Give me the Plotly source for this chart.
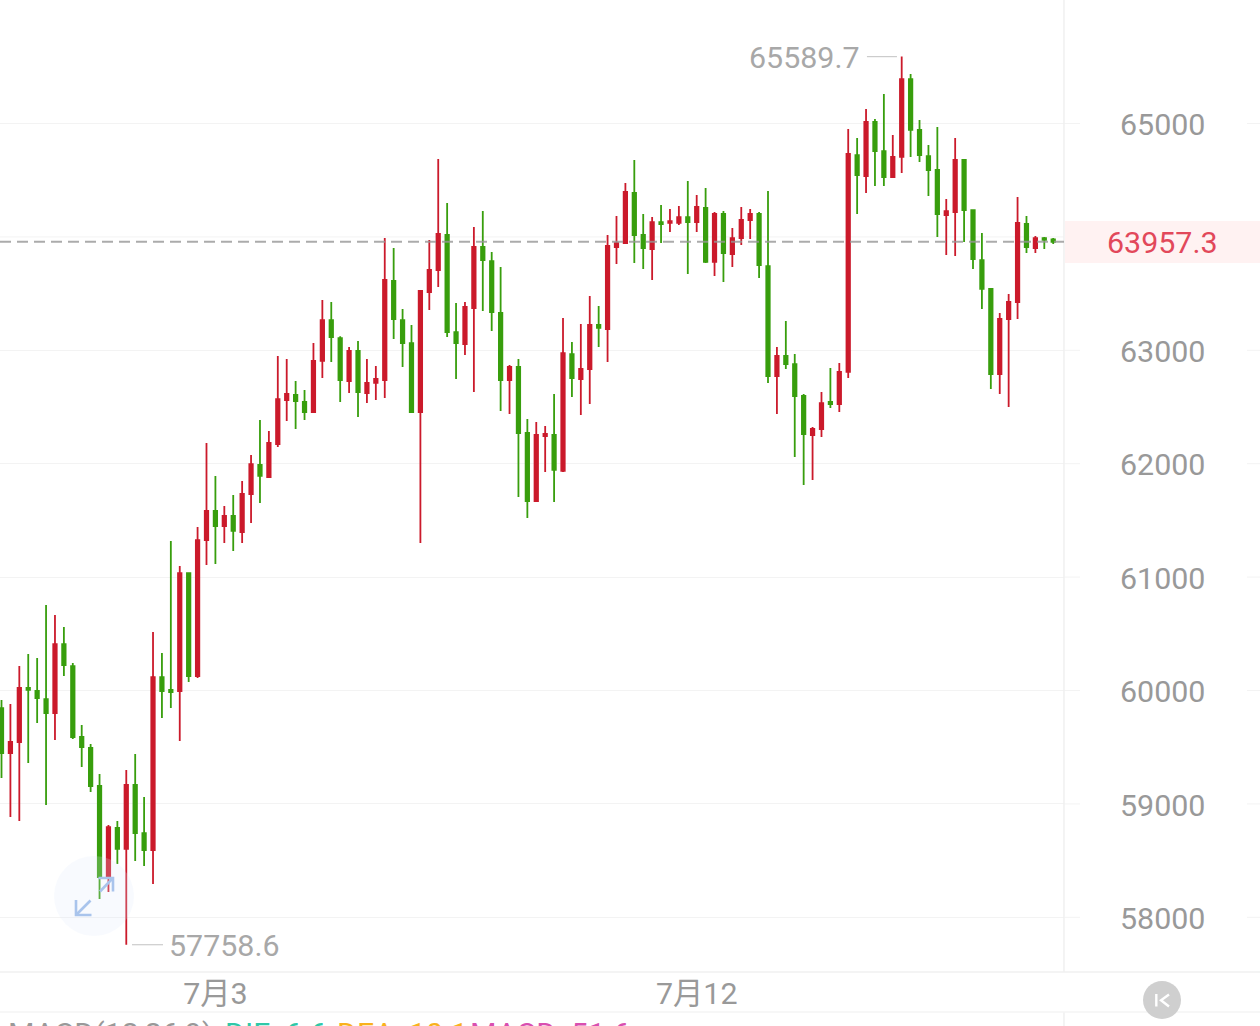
import plotly.graph_objects as go

# Four-hour BTC-style candles, price quoted in USD
opens = [59845, 59449, 59546, 60023, 59996, 59925, 59802, 60410, 60216, 59590,
         59493, 59158, 58364, 58788, 58603, 59167, 58743, 58594, 60119, 60005,
         59996, 61036, 60128, 61327, 61583, 61451, 61539, 61398, 61733, 61989,
         61883, 62174, 62562, 62606, 62544, 62456, 62906, 63267, 63108, 62729,
         62994, 62623, 62712, 62738, 63611, 63267, 63064, 62456, 63514, 63708,
         64017, 63161, 63055, 63373, 63911, 63787, 63329, 62738, 62853, 62271,
         61671, 62244, 62253, 61936, 62967, 62747, 62835, 63223, 63188, 63911,
         63946, 64387, 64017, 63893, 64131, 64123, 64123, 64175, 64131, 64255,
         63779, 64202, 63849, 63990, 64149, 64202, 63743, 62773, 62950, 62879,
         62597, 62253, 62306, 62544, 62526, 62809, 64722, 64537, 65013, 64757,
         64528, 64705, 65392, 64943, 64713, 64590, 64193, 64219, 64678, 64237,
         63796, 63541, 62791, 63276, 63426, 64114, 63902, 63990, 63977]
highs = [59916, 59881, 60216, 60322, 60287, 60754, 60666, 60560, 60242, 59696,
         59528, 59264, 58814, 58849, 59299, 59440, 59061, 60516, 60331, 61318,
         61098, 61040, 61442, 62183, 61891, 61627, 61724, 61847, 62077, 62385,
         62288, 62950, 62924, 62729, 62650, 63064, 63444, 63426, 63125, 63029,
         63082, 62924, 62861, 63990, 63902, 63364, 63223, 63527, 63973, 64687,
         64299, 63417, 63426, 64087, 64228, 63867, 63735, 62870, 62924, 62394,
         62368, 62332, 62615, 63285, 63073, 63232, 63479, 63391, 64017, 64184,
         64475, 64678, 64202, 64175, 64281, 64246, 64272, 64493, 64369, 64431,
         64219, 64228, 64078, 64264, 64246, 64219, 64405, 63029, 63258, 62968,
         62615, 62324, 62632, 62844, 62888, 64952, 64872, 65128, 65040, 65260,
         64899, 65589.7, 65436, 65031, 64810, 64969, 64334, 64872, 64687, 64240,
         64035, 63550, 63329, 63496, 64352, 64184, 64008, 63999, 63990]
lows = [59229, 58884, 58849, 59361, 59714, 58990, 59564, 60128, 59572, 59326,
        59105, 58161, 58223, 58470, 57758.6, 58497, 58452, 58294, 59757, 59845,
        59555, 60075, 60110, 61107, 61116, 61301, 61230, 61301, 61477, 61653,
        61874, 62147, 62377, 62306, 62385, 62450, 62756, 62897, 62544, 62623,
        62412, 62535, 62562, 62579, 63100, 62853, 62450, 61301, 63355, 63558,
        63117, 62747, 62959, 62632, 63347, 63170, 62465, 62438, 61706, 61521,
        61665, 61927, 61662, 61927, 62588, 62429, 62526, 63029, 62897, 63761,
        63940, 63770, 63717, 63620, 63946, 64043, 64105, 63673, 64043, 63770,
        63655, 63602, 63735, 63928, 63982, 63637, 62712, 62438, 62835, 62059,
        61812, 61856, 62235, 62491, 62456, 62756, 64202, 64387, 64449, 64449,
        64522, 64564, 64705, 64660, 64361, 64000, 63840, 63832, 63955, 63717,
        63364, 62659, 62615, 62500, 63276, 63858, 63858, 63893, 63937]
closes = [59449, 59546, 60023, 60005, 59934, 59802, 60410, 60225, 59590, 59502,
          59158, 58355, 58796, 58603, 59167, 58743, 58594, 60119, 59996, 59987,
          61036, 60128, 61327, 61583, 61451, 61539, 61407, 61733, 61997, 61892,
          62183, 62570, 62615, 62553, 62456, 62906, 63267, 63117, 62738, 62994,
          62632, 62712, 62747, 63620, 63276, 63064, 62456, 63523, 63708, 64026,
          63161, 63064, 63382, 63911, 63796, 63338, 62738, 62853, 62271, 61671,
          62253, 62262, 61945, 62976, 62756, 62835, 63223, 63197, 63920, 63946,
          64396, 64017, 63902, 64131, 64114, 64140, 64175, 64131, 64264, 63779,
          64202, 63858, 63990, 64149, 64202, 63752, 62773, 62950, 62879, 62597,
          62262, 62306, 62535, 62526, 62809, 64731, 64546, 65013, 64757, 64528,
          64705, 65392, 64943, 64722, 64590, 64202, 64228, 64678, 64237, 63805,
          63541, 62791, 63276, 63426, 64123, 63911, 63990, 63973, 63957.3]

candle_index = list(range(len(closes)))
date_ticks = [24, 78]
date_labels = ["7月3", "7月12"]
price_ticks = [58000, 59000, 60000, 61000, 62000, 63000, 65000]
peak_price = 65589.7
peak_index = 101
trough_price = 57758.6
trough_index = 14
last_price = 63957.3

WIDTH, HEIGHT = 1260, 1026
PLOT_RIGHT, PLOT_BOTTOM = 1064, 972
UP, DOWN = "#cb1a2b", "#389e0d"
GRID = "#f3f3f3"
LABEL = "#999999"
FONT = "Roboto, 'Noto Sans CJK SC', sans-serif"
FONT_SIZE = 30.4


def px(x):
    return x / WIDTH


def py(y):
    return 1 - y / HEIGHT


def path(points):
    return "M " + " L ".join(f"{px(x):.5f} {py(y):.5f}" for x, y in points)


def pixel_line(points, color, width):
    return dict(type="path", xref="paper", yref="paper", path=path(points),
                line=dict(color=color, width=width), layer="above")


fig = go.Figure(go.Candlestick(
    x=candle_index, open=opens, high=highs, low=lows, close=closes,
    whiskerwidth=0,
    increasing=dict(line=dict(color=UP, width=1.8), fillcolor=UP),
    decreasing=dict(line=dict(color=DOWN, width=1.8), fillcolor=DOWN),
    showlegend=False,
))

shapes = []

# Grid lines carry on past the plot edge on both sides of the price labels
for level in price_ticks:
    for x0, x1 in [(PLOT_RIGHT, 1080), (1247, WIDTH)]:
        shapes.append(dict(type="line", xref="paper", yref="y", x0=px(x0), x1=px(x1),
                           y0=level, y1=level, line=dict(color=GRID, width=1), layer="below"))
shapes.append(dict(type="line", xref="x domain", yref="y", x0=0, x1=1, y0=64000, y1=64000,
                   line=dict(color=GRID, width=1), layer="below"))

# Panel borders
shapes += [
    pixel_line([(PLOT_RIGHT, 0), (PLOT_RIGHT, PLOT_BOTTOM)], "#f0f0f0", 1.5),
    pixel_line([(PLOT_RIGHT, 1012), (PLOT_RIGHT, HEIGHT)], "#f0f0f0", 1.5),
    pixel_line([(0, PLOT_BOTTOM), (WIDTH, PLOT_BOTTOM)], "#f0f0f0", 1.5),
    pixel_line([(0, 1012), (WIDTH, 1012)], "#f4f4f4", 1.5),
]

# Last-price line and its highlighted tag
shapes.append(dict(type="line", xref="x domain", yref="y", x0=0, x1=1,
                   y0=last_price, y1=last_price,
                   line=dict(color="rgba(150,150,150,0.8)", width=2, dash="11px,6px"),
                   layer="above"))
shapes.append(dict(type="rect", xref="paper", yref="paper",
                   x0=px(PLOT_RIGHT + 1), x1=1, y0=py(263), y1=py(221),
                   fillcolor="#fff2f2", line=dict(width=0), layer="below"))

# Leader lines next to the extreme-price labels
shapes.append(dict(type="line", xref="x", yref="y", x0=97.1, x1=100.47,
                   y0=peak_price, y1=peak_price, line=dict(color="#cccccc", width=1.2)))
shapes.append(dict(type="line", xref="x", yref="y", x0=14.64, x1=18.12,
                   y0=trough_price, y1=trough_price, line=dict(color="#cccccc", width=1.2)))

# Round zoom toggle floating over the chart
shapes.append(dict(type="circle", xref="paper", yref="paper",
                   x0=px(54), x1=px(134), y0=py(936), y1=py(856),
                   fillcolor="rgba(222,234,250,0.22)", line=dict(width=0), layer="above"))
ARROW = "#a9c4ec"
shapes += [
    pixel_line([(98.5, 878), (113, 878), (113, 891.5)], ARROW, 2.6),
    pixel_line([(113, 878), (100, 891.5)], ARROW, 2.6),
    pixel_line([(76, 900), (76, 915), (91.5, 915)], ARROW, 2.6),
    pixel_line([(76, 915), (90.5, 900.5)], ARROW, 2.6),
]

# Collapse button at the lower right
shapes.append(dict(type="circle", xref="paper", yref="paper",
                   x0=px(1143), x1=px(1181), y0=py(1019), y1=py(981),
                   fillcolor="#cfcfcf", line=dict(width=0), layer="above"))
shapes += [
    pixel_line([(1156.3, 994), (1156.3, 1006.5)], "#ffffff", 2.4),
    pixel_line([(1169, 994.5), (1161, 1000.3), (1169, 1006.5)], "#ffffff", 2.4),
]

annotations = [
    dict(x=peak_index, y=peak_price, xref="x", yref="y", text=f"{peak_price}",
         showarrow=False, xanchor="right", xshift=-40, yshift=-1,
         font=dict(family=FONT, size=FONT_SIZE, color="#a8a8a8")),
    dict(x=trough_index, y=trough_price, xref="x", yref="y", text=f"{trough_price}",
         showarrow=False, xanchor="left", xshift=41, yshift=-1,
         font=dict(family=FONT, size=FONT_SIZE, color="#a8a8a8")),
    dict(x=px(1162), y=py(243), xref="paper", yref="paper", text=f"{last_price}",
         showarrow=False, xanchor="center", yanchor="middle",
         font=dict(family=FONT, size=FONT_SIZE, color="#e2485a")),
]

# MACD readout along the bottom edge, partly below the fold
macd_readout = [("MACD(12,26,9)", LABEL, 6), ("DIF: 6.6", "#2fc8a8", 223),
                ("DEA: 10.1", "#f9b21d", 335), ("MACD: 51.6", "#d94fb0", 468)]
for text, color, left in macd_readout:
    annotations.append(dict(x=px(left), y=py(1014), xref="paper", yref="paper",
                            xanchor="left", yanchor="top", showarrow=False, text=text,
                            font=dict(family=FONT, size=FONT_SIZE, color=color)))

fig.update_layout(
    width=WIDTH, height=HEIGHT,
    margin=dict(l=0, r=0, t=0, b=0),
    paper_bgcolor="white", plot_bgcolor="white",
    boxgap=0.45,
    font=dict(family=FONT, color=LABEL),
    shapes=shapes, annotations=annotations,
    xaxis=dict(domain=[0, PLOT_RIGHT / WIDTH], range=[-0.168, 119.21],
               rangeslider=dict(visible=False), showgrid=False, zeroline=False,
               showline=False, ticks="", tickmode="array", tickvals=date_ticks,
               ticktext=date_labels, ticklabelstandoff=1,
               tickfont=dict(size=FONT_SIZE, color=LABEL, family=FONT)),
    yaxis=dict(domain=[1 - PLOT_BOTTOM / HEIGHT, 1], range=[57518, 66089], side="right",
               showgrid=True, gridcolor=GRID, gridwidth=1, zeroline=False, showline=False,
               ticks="", tickmode="array", tickvals=price_ticks,
               ticktext=[str(v) for v in price_ticks],
               ticklabelstandoff=55, ticklabelshift=1,
               tickfont=dict(size=FONT_SIZE, color=LABEL, family=FONT)),
)

fig.write_html("out.html")
